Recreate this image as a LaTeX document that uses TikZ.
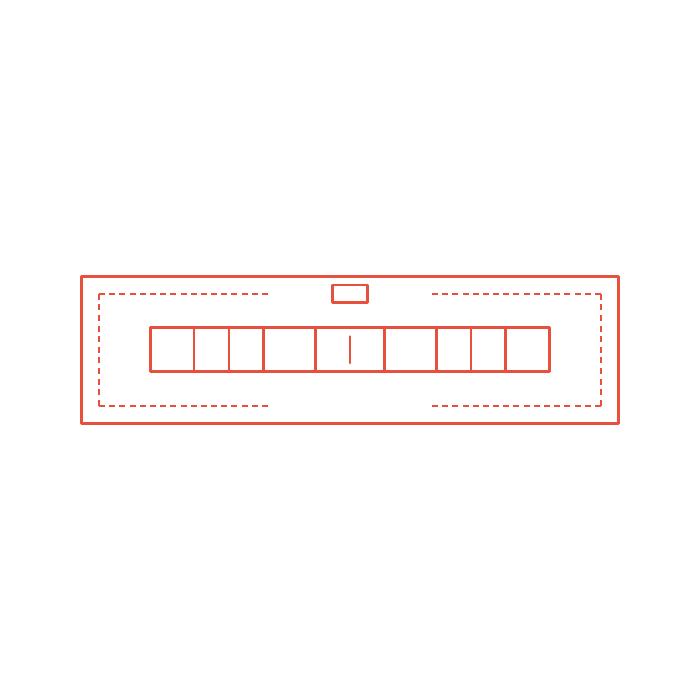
\documentclass[tikz,border=0pt]{standalone}
\definecolor{ink}{RGB}{232,80,62}
\begin{document}
\begin{tikzpicture}[x=1pt,y=-1pt,
  solidline/.style={draw=ink,line width=2.6pt,line join=round,line cap=round},
  dashline/.style={draw=ink,line width=2.4pt,dash pattern=on 6pt off 4.19pt},
  vdashline/.style={draw=ink,line width=2.4pt,dash pattern=on 6pt off 4.6pt}]
\useasboundingbox (0,0) rectangle (700,700);
% outer casing
\draw[solidline] (81.7,276.7) rectangle (618.3,423.3);
% small indicator
\draw[solidline] (332.5,285) rectangle (367.3,302.3);
% dashed brackets
\coordinate (ltl) at (99,293.7);
\coordinate (lbl) at (99,405.7);
\coordinate (rtr) at (601,293.7);
\coordinate (rbr) at (601,405.7);
\draw[dashline] (ltl) -- (268,293.7);
\draw[dashline] (lbl) -- (268,405.7);
\draw[vdashline] (ltl) -- (lbl);
\draw[dashline] (rtr) -- (432,293.7);
\draw[dashline] (rbr) -- (432,405.7);
\draw[vdashline] (rtr) -- (rbr);
% bar with cells
\draw[solidline] (150.7,327.7) rectangle (549.3,371.7);
\foreach \x in {194,229,263.3,315.7,384.3,436.7,471,505.7}
  \draw[solidline] (\x,327.7) -- (\x,371.7);
% center mark
\draw[solidline] (350,336.5) -- (350,363);
\end{tikzpicture}
\end{document}
